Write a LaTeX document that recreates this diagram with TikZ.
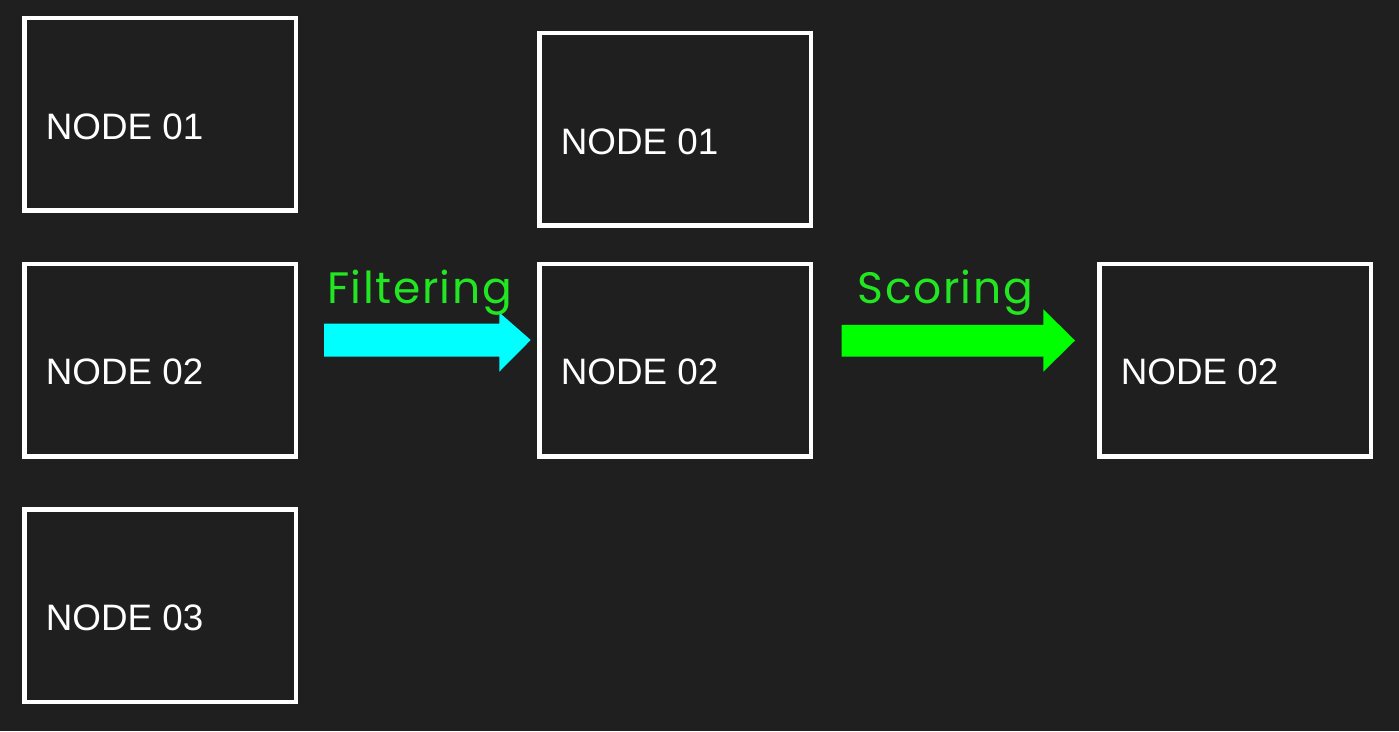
\documentclass[tikz,border=0pt]{standalone}
\usepackage{fontspec}
\setmainfont{Liberation Sans}
\newfontfamily\labelfont[LetterSpace=3.5]{Poppins}
\usetikzlibrary{calc}
\definecolor{bg}{HTML}{1F1F1F}
\definecolor{txtgreen}{HTML}{22E622}
\definecolor{arrcyan}{HTML}{00FFFF}
\definecolor{arrgreen}{HTML}{00FF00}
\tikzset{
  box/.style={draw=white, line width=4.3pt, minimum width=271.5pt, minimum height=192.5pt, inner sep=0pt, outer sep=0pt, anchor=north west},
  boxtext/.style={text=white, font=\fontsize{36.8}{40}\selectfont, anchor=base west, inner sep=0pt},
  steplabel/.style={text=txtgreen, font=\labelfont\fontsize{44}{48}\selectfont, anchor=base west, inner sep=0pt},
}
\begin{document}
\begin{tikzpicture}[x=1pt,y=-1pt]
\fill[bg] (0,0) rectangle (1399,731);
\useasboundingbox (0,0) rectangle (1399,731);
% left column
\node[box] (a1) at (24.5,18) {};
\node[box] (a2) at (24.5,264) {};
\node[box] (a3) at (24.5,509.5) {};
% middle column
\node[box] (b1) at (539.5,33) {};
\node[box] (b2) at (539.5,264) {};
% right
\node[box] (c2) at (1099.5,264) {};
% texts
\node[boxtext] (a1t) at ($(a1.north west)+(21.2,121.3)$) {NODE 01};
\node[boxtext] (a2t) at ($(a2.north west)+(21.2,120.3)$) {NODE 02};
\node[boxtext] (a3t) at ($(a3.north west)+(21.2,121.2)$) {NODE 03};
\node[boxtext] (b1t) at ($(b1.north west)+(21.2,121.3)$) {NODE 01};
\node[boxtext] (b2t) at ($(b2.north west)+(21.2,120.3)$) {NODE 02};
\node[boxtext] (c2t) at ($(c2.north west)+(21.2,120.3)$) {NODE 02};
% filtering arrow
\coordinate (f0) at (324,340);
\coordinate (f1) at (530.7,340);
\fill[arrcyan] ($(f0)+(0,-16.4)$) -- ($(f0)+(175.3,-16.4)$) -- ($(f0)+(175.3,-27.5)$) -- (f1)
  -- ($(f0)+(175.3,31.7)$) -- ($(f0)+(175.3,16.7)$) -- ($(f0)+(0,16.7)$) -- cycle;
\node[steplabel] (fl) at (327,303) {Filtering};
% scoring arrow
\coordinate (s0) at (841.7,340.5);
\coordinate (s1) at (1075,340.5);
\fill[arrgreen] ($(s0)+(0,-15.7)$) -- ($(s0)+(201.6,-15.7)$) -- ($(s0)+(201.6,-31.2)$) -- (s1)
  -- ($(s0)+(201.6,31.2)$) -- ($(s0)+(201.6,16.2)$) -- ($(s0)+(0,16.2)$) -- cycle;
\node[steplabel] (sl) at (857.5,303) {Scoring};
\end{tikzpicture}
\end{document}
